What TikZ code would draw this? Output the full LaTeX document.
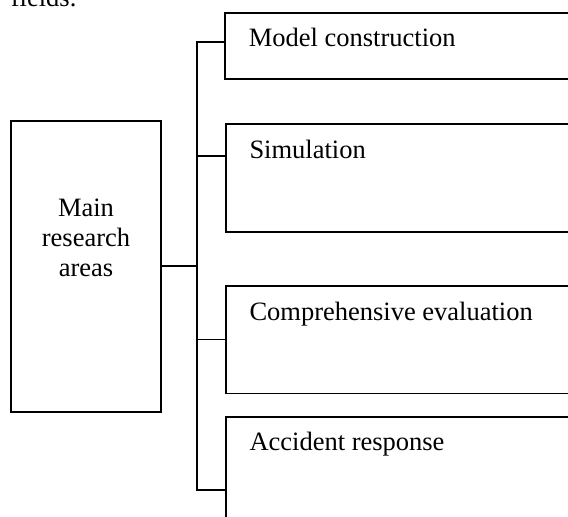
\documentclass[tikz,border=0pt]{standalone}
\usepackage{fontspec}
\setmainfont{Liberation Serif}
\begin{document}
\begin{tikzpicture}[x=1pt,y=-1pt, line width=1.8pt,
  box/.style={draw, rectangle, inner sep=0pt, outer sep=0pt, anchor=north west},
  txt/.style={inner sep=0pt, font=\fontsize{26.5}{29.7}\selectfont},
  lbl/.style={txt, anchor=base west}]
\useasboundingbox (0,0) rectangle (568,517);
\clip (0,0) rectangle (568,517);
% partial text from the page above
\node[lbl] (fields) at (10,6) {fields.};
% main box
\node[box, minimum width=150pt, minimum height=291pt] (main) at (11,121) {};
\node[txt, align=center] (maintext) at (86,238) {Main\\research\\areas};
% branch boxes
\node[box, minimum width=360pt, minimum height=65.7pt] (mc) at (225.3,13.3) {};
\node[box, minimum width=360pt, minimum height=108pt] (sim) at (226,124) {};
\node[box, minimum width=360pt, minimum height=107.8pt] (ce) at (226,285.7) {};
\node[box, minimum width=360pt, minimum height=130pt] (ar) at (226,416.7) {};
\node[lbl] (mcl) at ([shift={(22.6,33.5)}]mc.north west) {Model construction};
\node[lbl] (siml) at ([shift={(22.6,34.3)}]sim.north west) {Simulation};
\node[lbl] (cel) at ([shift={(22.6,34.3)}]ce.north west) {Comprehensive evaluation};
\node[lbl] (arl) at ([shift={(22.6,33.5)}]ar.north west) {Accident response};
% trunk
\coordinate (ttop) at (197,42.3);
\coordinate (tsim) at (197,156);
\coordinate (tmid) at (197,265.7);
\coordinate (tce) at (197,339.5);
\coordinate (tbot) at (197,490);
\draw (mc.west |- ttop) -- (ttop) -- (tbot) -- (ar.west |- tbot);
\draw (tsim) -- (sim.west |- tsim);
\draw (tce) -- (ce.west |- tce);
\draw (main.east |- tmid) -- (tmid);
\end{tikzpicture}
\end{document}
